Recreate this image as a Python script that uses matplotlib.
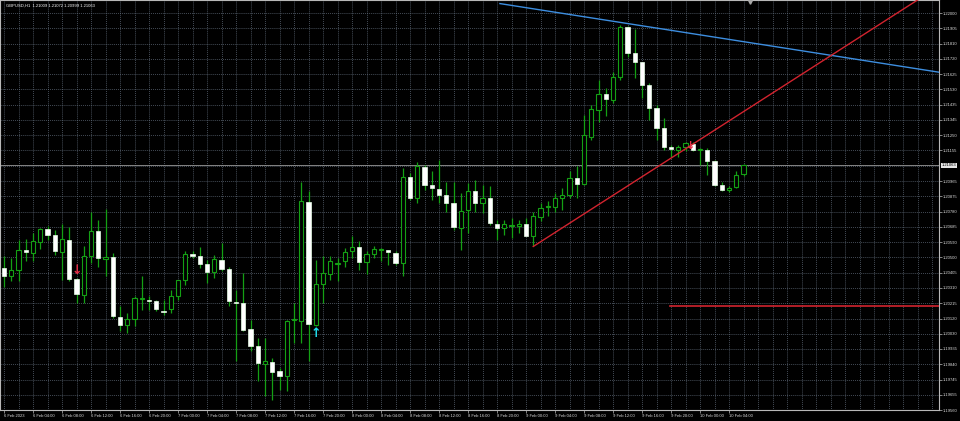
import matplotlib
matplotlib.use("Agg")
import matplotlib.pyplot as plt
from matplotlib.patches import Rectangle
import numpy as np

plt.rcParams['font.family'] = ['Liberation Sans', 'DejaVu Sans']

title_text = "GBPUSD,H1  1.21009 1.21072 1.20999 1.21063"

opens = [1.20433, 1.20385, 1.20418, 1.20541, 1.20525, 1.20592, 1.20674, 1.20637, 1.20531, 1.20606,
         1.20365, 1.20269, 1.20504, 1.20663, 1.20488, 1.20500, 1.20132, 1.20080, 1.20120, 1.20242,
         1.20238, 1.20228, 1.20170, 1.20181, 1.20258, 1.20356, 1.20519, 1.20508, 1.20459, 1.20406,
         1.20484, 1.20427, 1.20224, 1.20218, 1.20058, 1.19956, 1.19843, 1.19856, 1.19798, 1.19767,
         1.20111, 1.20105, 1.20838, 1.20085, 1.20334, 1.20398, 1.20457, 1.20473, 1.20535, 1.20562,
         1.20467, 1.20520, 1.20545, 1.20541, 1.20528, 1.20463, 1.20995, 1.20862, 1.21053, 1.20940,
         1.20918, 1.20883, 1.20832, 1.20678, 1.20791, 1.20909, 1.20835, 1.20862, 1.20705, 1.20678,
         1.20688, 1.20688, 1.20705, 1.20631, 1.20746, 1.20807, 1.20807, 1.20866, 1.20881, 1.20985,
         1.20950, 1.21241, 1.21405, 1.21503, 1.21466, 1.21605, 1.21912, 1.21753, 1.21698, 1.21558,
         1.21415, 1.21292, 1.21179, 1.21159, 1.21176, 1.21196, 1.21159, 1.21159, 1.21093, 1.20940,
         1.20913, 1.20930, 1.21009]
highs = [1.20504, 1.20496, 1.20606, 1.20611, 1.20648, 1.20678, 1.20688, 1.20668, 1.20705, 1.20684,
         1.20370, 1.20565, 1.20780, 1.20729, 1.20795, 1.20525, 1.20197, 1.20156, 1.20258, 1.20385,
         1.20258, 1.20238, 1.20238, 1.20299, 1.20361, 1.20535, 1.20535, 1.20559, 1.20484, 1.20514,
         1.20586, 1.20442, 1.20299, 1.20402, 1.20115, 1.20003, 1.20003, 1.19880, 1.19819, 1.20115,
         1.20218, 1.20964, 1.20903, 1.20484, 1.20504, 1.20508, 1.20494, 1.20555, 1.20627, 1.20596,
         1.20535, 1.20565, 1.20555, 1.20545, 1.20535, 1.21047, 1.21016, 1.21087, 1.21067, 1.21026,
         1.21098, 1.20964, 1.20964, 1.20893, 1.20955, 1.20975, 1.20944, 1.20934, 1.20729, 1.20729,
         1.20740, 1.20729, 1.20740, 1.20780, 1.20835, 1.20842, 1.20893, 1.20924, 1.21026, 1.21057,
         1.21374, 1.21435, 1.21589, 1.21538, 1.21640, 1.21927, 1.21920, 1.21900, 1.21701, 1.21569,
         1.21435, 1.21354, 1.21190, 1.21190, 1.21210, 1.21208, 1.21169, 1.21169, 1.21098, 1.20964,
         1.20934, 1.21032, 1.21072]
lows = [1.20316, 1.20350, 1.20350, 1.20473, 1.20473, 1.20549, 1.20606, 1.20514, 1.20361, 1.20350,
        1.20218, 1.20218, 1.20463, 1.20442, 1.20381, 1.20126, 1.20043, 1.20034, 1.20074, 1.20177,
        1.20177, 1.20166, 1.20146, 1.20156, 1.20238, 1.20330, 1.20494, 1.20433, 1.20340, 1.20371,
        1.20412, 1.20197, 1.19859, 1.20043, 1.19921, 1.19736, 1.19644, 1.19624, 1.19685, 1.19675,
        1.19972, 1.19972, 1.19859, 1.20074, 1.20218, 1.20361, 1.20350, 1.20442, 1.20494, 1.20422,
        1.20398, 1.20494, 1.20473, 1.20453, 1.20453, 1.20381, 1.20852, 1.20832, 1.20913, 1.20852,
        1.20832, 1.20780, 1.20668, 1.20545, 1.20648, 1.20780, 1.20770, 1.20699, 1.20606, 1.20637,
        1.20617, 1.20648, 1.20627, 1.20565, 1.20719, 1.20750, 1.20780, 1.20791, 1.20862, 1.20862,
        1.20944, 1.21220, 1.21333, 1.21364, 1.21446, 1.21589, 1.21732, 1.21599, 1.21476, 1.21343,
        1.21220, 1.21159, 1.21118, 1.21114, 1.21149, 1.21153, 1.21067, 1.21005, 1.20934, 1.20903,
        1.20897, 1.20924, 1.20999]
closes = [1.20385, 1.20422, 1.20545, 1.20531, 1.20596, 1.20674, 1.20633, 1.20535, 1.20611, 1.20365,
          1.20273, 1.20508, 1.20663, 1.20492, 1.20500, 1.20135, 1.20083, 1.20121, 1.20248, 1.20244,
          1.20232, 1.20181, 1.20164, 1.20258, 1.20356, 1.20519, 1.20508, 1.20457, 1.20410, 1.20488,
          1.20427, 1.20228, 1.20218, 1.20054, 1.19956, 1.19849, 1.19864, 1.19794, 1.19771, 1.20109,
          1.20113, 1.20842, 1.20091, 1.20334, 1.20402, 1.20477, 1.20459, 1.20531, 1.20562, 1.20470,
          1.20520, 1.20549, 1.20547, 1.20533, 1.20463, 1.20995, 1.20862, 1.21057, 1.20940, 1.20924,
          1.20883, 1.20832, 1.20684, 1.20786, 1.20909, 1.20832, 1.20862, 1.20709, 1.20678, 1.20703,
          1.20690, 1.20705, 1.20631, 1.20754, 1.20799, 1.20809, 1.20862, 1.20883, 1.20985, 1.20950,
          1.21251, 1.21409, 1.21503, 1.21470, 1.21605, 1.21916, 1.21753, 1.21701, 1.21558, 1.21415,
          1.21292, 1.21176, 1.21165, 1.21176, 1.21200, 1.21155, 1.21161, 1.21093, 1.20940, 1.20913,
          1.20927, 1.21007, 1.21063]

price_ticks = [1.22000, 1.21905, 1.21810, 1.21720, 1.21625, 1.21530, 1.21435, 1.21345, 1.21250,
               1.21155, 1.20965, 1.20875, 1.20780, 1.20685, 1.20590, 1.20500, 1.20405, 1.20310,
               1.20215, 1.20120, 1.20030, 1.19935, 1.19840, 1.19745, 1.19655, 1.19560]
time_tick_bars = list(range(0, 101, 4))
time_tick_labels = ["6 Feb 2023", "6 Feb 04:00", "6 Feb 08:00", "6 Feb 12:00", "6 Feb 16:00",
                    "6 Feb 20:00", "7 Feb 00:00", "7 Feb 04:00", "7 Feb 08:00", "7 Feb 12:00",
                    "7 Feb 16:00", "7 Feb 20:00", "8 Feb 00:00", "8 Feb 04:00", "8 Feb 08:00",
                    "8 Feb 12:00", "8 Feb 16:00", "8 Feb 20:00", "9 Feb 00:00", "9 Feb 04:00",
                    "9 Feb 08:00", "9 Feb 12:00", "9 Feb 16:00", "9 Feb 20:00", "10 Feb 00:00",
                    "10 Feb 04:00"]
current_price = 1.21063
blue_trend_x = [68.4, 131.0]
blue_trend_y = [1.22058, 1.21622]
red_trend_x = [73.0, 128.0]
red_trend_y = [1.20565, 1.22137]
red_level = 1.20199
red_level_x = [91.9, 131.0]
sell_arrow = (10, 1.20419)
buy_arrow = (43, 1.20029)
sell_mark = (94.7, 1.21184)

GREEN = '#14a014'
GRIDC = '#6b7888'

fig = plt.figure(figsize=(9.6, 4.21), dpi=100, facecolor='black')
ax = fig.add_axes([0, 11 / 421, 939 / 960, 410 / 421])
ax.set_facecolor('black')
n = len(opens)
xs = np.arange(n)
ax.set_xlim(-4 / 7.25, 935 / 7.25)
ax.set_ylim(1.19563, 1.22080)

# grid
ax.hlines(price_ticks + [1.21062], -1, 140, colors=GRIDC, linewidth=0.5,
          linestyles=(0, (1.2, 1.6)), zorder=0)
ax.vlines(np.arange(0, 130, 2), 1.19, 1.23, colors=GRIDC, linewidth=0.5,
          linestyles=(0, (1.2, 1.6)), zorder=0)

# current price line
ax.axhline(current_price, color='#9a9a9a', linewidth=0.6, zorder=1)

# candles
ax.vlines(xs, lows, highs, colors=GREEN, linewidth=0.9, zorder=2)
minh = 0.00007
for i in range(n):
    o, c = opens[i], closes[i]
    bottom = min(o, c)
    h = max(abs(c - o), minh)
    if c >= o:
        rect = Rectangle((i - 0.3, bottom), 0.6, h, facecolor='black', edgecolor=GREEN,
                         linewidth=0.8, zorder=3)
    else:
        rect = Rectangle((i - 0.3, bottom), 0.6, h, facecolor='white', edgecolor='#e8ffe8',
                         linewidth=0.5, zorder=3)
    ax.add_patch(rect)

# trend lines
ax.plot(blue_trend_x, blue_trend_y, color='#3d8ee0', linewidth=1.0, zorder=4)
ax.plot(red_trend_x, red_trend_y, color='#d2232e', linewidth=1.0, zorder=4)
ax.plot(red_level_x, [red_level, red_level], color='#d2232e', linewidth=1.2, zorder=4)

# arrows
ax.text(sell_arrow[0], sell_arrow[1], '\u2193', color='#e8304a', fontsize=9,
        fontweight='bold', ha='center', va='center', family='DejaVu Sans', zorder=5)
ax.text(buy_arrow[0], buy_arrow[1], '\u2191', color='#20e0f0', fontsize=9,
        fontweight='bold', ha='center', va='center', family='DejaVu Sans', zorder=5)
ax.text(sell_mark[0], sell_mark[1], '\u2193', color='#e8304a', fontsize=8,
        fontweight='bold', ha='center', va='center', family='DejaVu Sans', zorder=5)

# title
ax.text(0.006, 0.992, title_text, transform=ax.transAxes, ha='left', va='top',
        fontsize=3.0, color='white', zorder=6)

# chart shift marker
ax.plot([102.9], [0.996], marker='v', markersize=2.5, color='#a8a8a8',
        transform=ax.get_xaxis_transform(), clip_on=False, zorder=6)

# axes styling
for s in ax.spines.values():
    s.set_color('#b8b8b8')
    s.set_linewidth(0.8)
ax.yaxis.tick_right()
ax.set_yticks(price_ticks)
ax.set_yticklabels(['%.5f' % v for v in price_ticks])
ax.set_xticks(time_tick_bars)
ax.set_xticklabels(time_tick_labels, ha='left')
ax.tick_params(axis='y', colors='#b8b8b8', labelcolor='#dcdcdc', labelsize=3.0,
               length=2, width=0.5, pad=1.0)
ax.tick_params(axis='x', colors='#b8b8b8', labelcolor='#dcdcdc', labelsize=3.0,
               length=2, width=0.5, pad=1.0)

# current price box
ax.text(1.003, current_price, '%.5f' % current_price, transform=ax.get_yaxis_transform(),
        ha='left', va='center', fontsize=3.0, color='black', zorder=7, clip_on=False,
        bbox=dict(facecolor='#e6e6e6', edgecolor='none', pad=0.7))

fig.savefig('out.png', dpi=100, facecolor='black')
